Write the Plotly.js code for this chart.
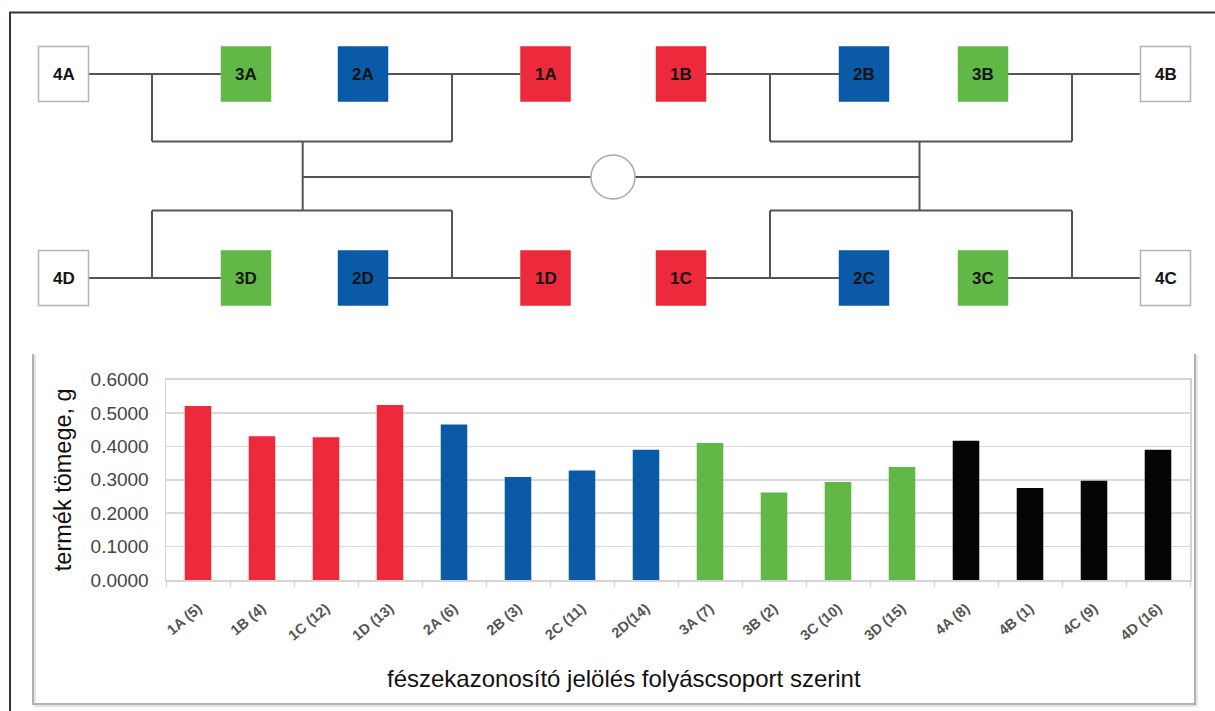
<!DOCTYPE html>
<html>
<head>
<meta charset="utf-8">
<script src="https://cdn.plot.ly/plotly-3.0.1.min.js"></script>
<style>html,body{margin:0;padding:0;background:#fff;}</style>
</head>
<body>
<div id="chart" style="width:1215px;height:711px;"></div>
<script>
// ---------------- DATA ----------------
const categories = ['1A (5)','1B (4)','1C (12)','1D (13)','2A (6)','2B (3)','2C (11)','2D(14)',
                    '3A (7)','3B (2)','3C (10)','3D (15)','4A (8)','4B (1)','4C (9)','4D (16)'];
const values = [0.521, 0.430, 0.427, 0.524, 0.465, 0.308, 0.328, 0.390,
                0.410, 0.262, 0.293, 0.338, 0.417, 0.275, 0.297, 0.390];
const groups = [1,1,1,1, 2,2,2,2, 3,3,3,3, 4,4,4,4];
const yTicks = [0, 0.1, 0.2, 0.3, 0.4, 0.5, 0.6];

// diagram nodes (top row left->right, bottom row left->right)
const topNodes = ['4A','3A','2A','1A','1B','2B','3B','4B'];
const topGroups = [4,3,2,1,1,2,3,4];
const bottomNodes = ['4D','3D','2D','1D','1C','2C','3C','4C'];
const bottomGroups = [4,3,2,1,1,2,3,4];

const yTitle = 'termék tömege, g';
const xTitle = 'fészekazonosító jelölés folyáscsoport szerint';

// ---------------- STYLE / LAYOUT ----------------
const W = 1215, H = 711;
const barColors = {1:'#ec2a3b', 2:'#0b5aa8', 3:'#62b846', 4:'#050505'};
const boxFill = {1:'#ec2a3b', 2:'#0b5aa8', 3:'#62b846', 4:'#ffffff'};
const colX = [63.5, 246, 363, 545.5, 681, 864, 983, 1165.5];
const rowY = {top: 74, bottom: 278};
const boxW = 50, boxH = 55;
const junctionX = [152, 452, 770, 1072];
const hubX = [302.7, 919.5];
const busY = {top: 141.5, bottom: 210.5};
const centerY = 177, circleX = 613, circleR = 22;

const shapes = [];
const annotations = [];

// connecting lines
const lx = [], ly = [];
function seg(x0,y0,x1,y1){ lx.push(x0,x1,null); ly.push(y0,y1,null); }
['top','bottom'].forEach(r => {
  const y = rowY[r];
  for (let p = 0; p < 8; p += 2) seg(colX[p] + boxW/2, y, colX[p+1] - boxW/2, y);
  junctionX.forEach(jx => seg(jx, y, jx, busY[r]));
  seg(junctionX[0], busY[r], junctionX[1], busY[r]);
  seg(junctionX[2], busY[r], junctionX[3], busY[r]);
});
hubX.forEach(hx => seg(hx, busY.top, hx, busY.bottom));
seg(hubX[0], centerY, circleX - circleR, centerY);
seg(circleX + circleR, centerY, hubX[1], centerY);

// boxes + labels
function addBoxes(names, grps, y){
  names.forEach((n, i) => {
    const g = grps[i];
    shapes.push({type:'rect', xref:'x2', yref:'y2',
      x0: colX[i]-boxW/2, x1: colX[i]+boxW/2, y0: y-boxH/2, y1: y+boxH/2,
      fillcolor: boxFill[g], line:{color: g === 4 ? '#b4b4b4' : boxFill[g], width: g === 4 ? 1.5 : 0.5}, layer:'above'});
    annotations.push({xref:'x2', yref:'y2', x: colX[i], y: y, text: n, showarrow:false,
      font:{family:'Liberation Sans, Arial, sans-serif', size:17, color:'#141414', weight:'bold'}});
  });
}
addBoxes(topNodes, topGroups, rowY.top);
addBoxes(bottomNodes, bottomGroups, rowY.bottom);

// centre circle
shapes.push({type:'circle', xref:'x2', yref:'y2', x0: circleX-circleR, x1: circleX+circleR,
  y0: centerY-circleR, y1: centerY+circleR, fillcolor:'#ffffff', line:{color:'#a8a8a8', width:1.5}, layer:'above'});

// bar-chart frame (left, bottom, right) with soft shadow
const fr = {x0:33, x1:1195, y0:354, y1:704};
shapes.push({type:'path', xref:'x2', yref:'y2', path:`M${fr.x0+2},${fr.y0+1} L${fr.x0+2},${fr.y1+2} L${fr.x1+2},${fr.y1+2} L${fr.x1+2},${fr.y0+1}`,
  line:{color:'#e6e6e6', width:2}, layer:'below'});
shapes.push({type:'path', xref:'x2', yref:'y2', path:`M${fr.x0},${fr.y0} L${fr.x0},${fr.y1} L${fr.x1},${fr.y1} L${fr.x1},${fr.y0}`,
  line:{color:'#b2b2b2', width:2}, layer:'below'});

// outer dark border (top and left)
shapes.push({type:'path', xref:'x2', yref:'y2', path:`M${W},12.5 L10,12.5 L10,${H}`,
  line:{color:'#2c3642', width:2}, layer:'above'});

// x-axis title (sits left of the plot centre in the original)
annotations.push({xref:'x2', yref:'y2', x: 624, y: 678, text: xTitle, showarrow:false,
  font:{family:'Liberation Sans, Arial, sans-serif', size:24, color:'#111111'}});

const traces = [
  {
    type:'bar', x: categories, y: values, xaxis:'x', yaxis:'y',
    marker:{color: groups.map(g => barColors[g]), line:{width:0}},
    hoverinfo:'x+y', showlegend:false
  },
  {
    type:'scatter', mode:'lines', x: lx, y: ly, xaxis:'x2', yaxis:'y2',
    line:{color:'#555555', width:2}, hoverinfo:'skip', showlegend:false
  }
];

const font = 'Liberation Sans, Arial, sans-serif';
const layout = {
  width: W, height: H,
  margin:{l:0, r:0, t:0, b:0, pad:0},
  paper_bgcolor:'#ffffff', plot_bgcolor:'rgba(0,0,0,0)',
  font:{family: font},
  bargap: 0.585,
  showlegend:false,
  xaxis:{
    domain:[166/W, 1190/W], anchor:'y', type:'category',
    tickangle:-40, tickfont:{size:14.5, color:'#555555', weight:'bold'},
    ticks:'outside', tickson:'boundaries', ticklen:5, tickcolor:'#cccccc', tickwidth:1,
    ticklabelstandoff: 13,
    showline:true, linecolor:'#d4d4d4', linewidth:1.5, mirror:true, showgrid:false,
    automargin:false
  },
  yaxis:{
    domain:[1-580/H, 1-379.5/H], anchor:'x', range:[0,0.6],
    tickvals: yTicks, tickformat:'.4f', tickfont:{size:19, color:'#454545'},
    ticks:'', ticklabelstandoff: 12,
    showgrid:true, gridcolor:'#d9d9d9', gridwidth:1.5, zeroline:false,
    showline:true, linecolor:'#d4d4d4', linewidth:1.5, mirror:true,
    automargin:false,
    title:{text: yTitle, font:{size:23.5, color:'#111111'}, standoff: 12}
  },
  xaxis2:{domain:[0,1], anchor:'y2', range:[0, W], visible:false, fixedrange:true},
  yaxis2:{domain:[0,1], anchor:'x2', range:[H, 0], visible:false, fixedrange:true},
  shapes: shapes,
  annotations: annotations
};

Plotly.newPlot('chart', traces, layout, {displayModeBar:false, staticPlot:true});
</script>
</body>
</html>
